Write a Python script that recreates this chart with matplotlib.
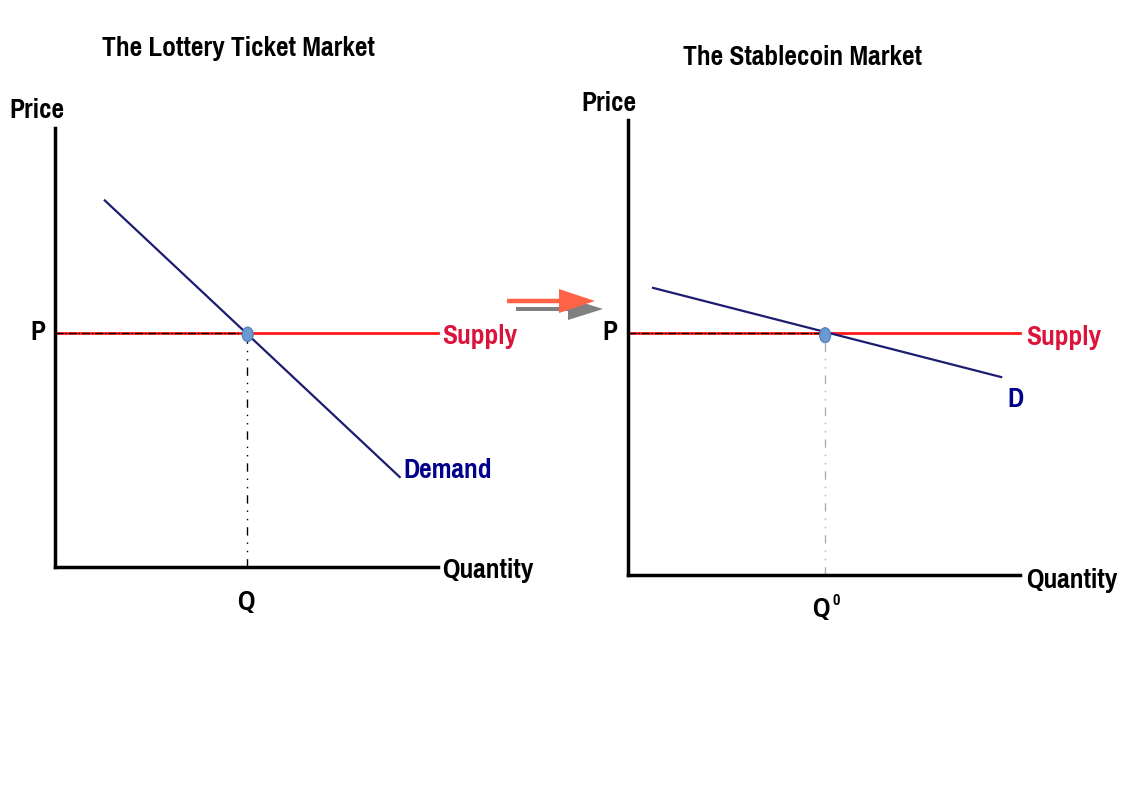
import matplotlib
matplotlib.use("Agg")
import matplotlib.pyplot as plt
from matplotlib.patches import Ellipse, FancyArrow

plt.rcParams['font.family'] = ['Liberation Sans Narrow', 'Pragati Narrow', 'Roboto Condensed', 'DejaVu Sans']
plt.rcParams['font.weight'] = 'bold'

# ---- data (arbitrary units: quantity 0..10, price 0..10) ----
titles = ["The Lottery Ticket Market", "The Stablecoin Market"]
demand_labels = ["Demand", "D"]
q_labels = ["Q", "Q"]
left_demand_q = [1.3, 9.0]
left_demand_p = [8.35, 2.05]
left_eq_q = 5.0
left_eq_p = 5.33
right_demand_q = [0.64, 9.52]
right_demand_p = [6.31, 4.35]
right_eq_q = 5.03
right_eq_p = 5.32
supply_q_max = 10.0

W, H = 1123, 794
fig = plt.figure(figsize=(W / 100, H / 100), dpi=100)
fig.patch.set_facecolor('white')

RED = '#FF1A1A'
RED_TXT = '#DC143C'
NAVY = '#1C1C70'
NAVY_TXT = '#00008B'
DOT = '#6A9AD2'
DOT_EDGE = '#4F7DB5'
FS = 21.5


def make_axes(x0, y0, x1, y1):
    # x0,y0 = origin pixel, x1 = right end pixel, y1 = top pixel
    ax = fig.add_axes([x0 / W, (H - y0) / H, (x1 - x0) / W, (y0 - y1) / H])
    ax.set_xlim(0, 10)
    ax.set_ylim(0, 10)
    for s in ['top', 'right']:
        ax.spines[s].set_visible(False)
    for s in ['left', 'bottom']:
        ax.spines[s].set_linewidth(2.5)
        ax.spines[s].set_color('black')
    ax.set_xticks([])
    ax.set_yticks([])
    ax.patch.set_alpha(0)
    return ax


def label(ax, x, y, s, ha='center', color='black', fs=FS):
    ax.text(x, y, s, ha=ha, va='center', fontsize=fs, color=color)


# ---- left panel ----
axL = make_axes(55, 567, 438, 128)
axL.plot([0, supply_q_max], [left_eq_p, left_eq_p], color=RED, lw=2, zorder=2, clip_on=False)
axL.plot([0, left_eq_q], [left_eq_p, left_eq_p], color='black', lw=0.9, ls='-.', zorder=3, clip_on=False)
axL.plot([left_eq_q, left_eq_q], [0, left_eq_p], color='black', lw=1.0, ls=(0, (6, 5, 1, 5, 1, 5)), zorder=2, clip_on=False)
axL.plot(left_demand_q, left_demand_p, color=NAVY, lw=1.6, zorder=4, clip_on=False)
axL.add_patch(Ellipse((left_eq_q + 0.03, left_eq_p - 0.03), 0.29, 0.33, facecolor=DOT,
                      edgecolor=DOT_EDGE, lw=0.8, zorder=5, clip_on=False))
label(axL, 4.78, 11.8, titles[0])
label(axL, -0.47, 10.39, "Price")
label(axL, -0.44, 5.35, "P")
label(axL, 10.1, 5.26, "Supply", ha='left', color=RED_TXT)
label(axL, 9.09, 2.19, demand_labels[0], ha='left', color=NAVY_TXT)
label(axL, 10.1, -0.09, "Quantity", ha='left')
label(axL, 4.99, -0.8, q_labels[0])

# ---- right panel ----
axR = make_axes(628, 575, 1020, 120)
axR.plot([0, supply_q_max], [right_eq_p, right_eq_p], color=RED, lw=2, zorder=2, clip_on=False)
axR.plot([0, right_eq_q], [right_eq_p, right_eq_p], color='black', lw=0.9, ls='-.', zorder=3, clip_on=False)
axR.plot([right_eq_q, right_eq_q], [0, right_eq_p], color='#B0B0B0', lw=1.0, ls=(0, (6, 5, 1, 5, 1, 5)), zorder=2, clip_on=False)
axR.plot(right_demand_q, right_demand_p, color=NAVY, lw=1.6, zorder=4, clip_on=False)
axR.add_patch(Ellipse((right_eq_q, right_eq_p - 0.05), 0.28, 0.33, facecolor=DOT,
                      edgecolor=DOT_EDGE, lw=0.8, zorder=5, clip_on=False))
label(axR, 4.44, 11.38, titles[1])
label(axR, -0.48, 10.37, "Price")
label(axR, -0.46, 5.34, "P")
label(axR, 10.15, 5.23, "Supply", ha='left', color=RED_TXT)
label(axR, 9.69, 3.85, demand_labels[1], ha='left', color=NAVY_TXT)
label(axR, 10.15, -0.11, "Quantity", ha='left')
label(axR, 4.92, -0.75, q_labels[1])
label(axR, 5.31, -0.55, "0", fs=12.5)

# ---- transition arrows (pixel-based, in inches) ----
def px_arrow(x_start, x_tip, y, shaft_w, head_w, head_len, color, z):
    a = FancyArrow(x_start / 100, (H - y) / 100, (x_tip - x_start) / 100, 0,
                   width=shaft_w / 100, head_width=head_w / 100, head_length=head_len / 100,
                   length_includes_head=True, color=color, transform=fig.dpi_scale_trans,
                   zorder=z, lw=0)
    fig.patches.append(a)

px_arrow(516, 603, 309, 4, 22, 35, '#808080', 1)
px_arrow(507, 595, 301, 4.5, 24, 36, '#FF6347', 2)

fig.savefig("out.png", dpi=100)
